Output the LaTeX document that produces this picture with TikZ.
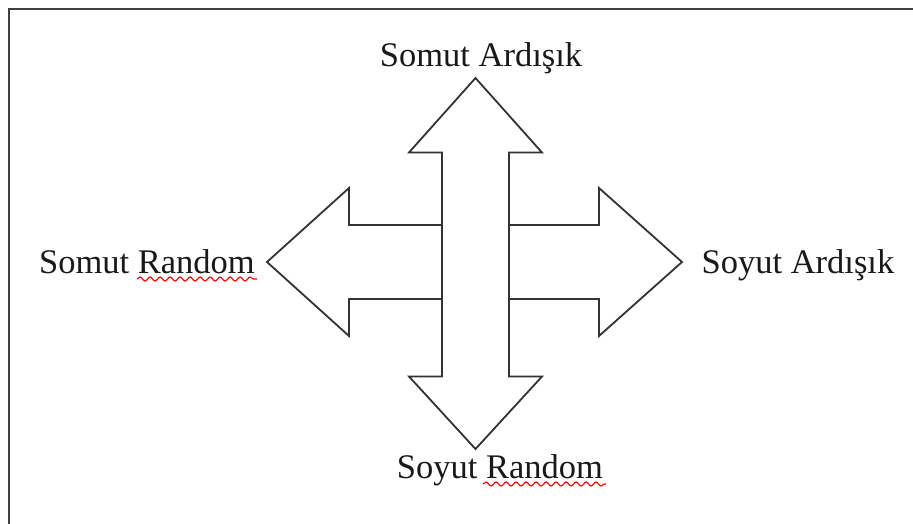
\documentclass[tikz,border=0pt]{standalone}
\usepackage{fontspec}
\setmainfont{Liberation Serif}
\usetikzlibrary{decorations.pathmorphing}
\tikzset{
  outline/.style={draw=black!80, line width=1.8pt, line join=miter, fill=white},
  lbl/.style={anchor=base, inner sep=0pt, font=\fontsize{34.5pt}{40pt}\selectfont, text=black!90},
  spell/.style={draw=red, line width=1.1pt, decorate, decoration={snake, segment length=10pt, amplitude=2pt}},
  frame/.style={draw=black!75, line width=2pt}
}
\begin{document}
\begin{tikzpicture}[x=1pt,y=-1pt]
\useasboundingbox (0,0) rectangle (913,524);
\fill[white] (0,0) rectangle (913,524);
\begin{scope}
\clip (0,0) rectangle (913,524);
\draw[frame] (9,9) rectangle (940,560);
\end{scope}
% horizontal double arrow (behind)
\draw[outline] (267,262) -- (349,188) -- (349,225) -- (599,225) -- (599,188) -- (682,262)
  -- (599,336) -- (599,299) -- (349,299) -- (349,336) -- cycle;
% vertical double arrow (front)
\draw[outline] (475.5,78) -- (542,152.5) -- (509,152.5) -- (509,376.5) -- (542,376.5)
  -- (475.5,449) -- (409,376.5) -- (442,376.5) -- (442,152.5) -- (409,152.5) -- cycle;
% labels
\node[lbl] (top) at (481,67) {Somut Ardışık};
\node[lbl] (left) at (147,273) {Somut Random};
\node[lbl] (right) at (798,273) {Soyut Ardışık};
\node[lbl] (bottom) at (500,478) {Soyut Random};
% spell-check underlines
\draw[spell] (137,279) -- (257,279);
\draw[spell] (483,484) -- (606,484);
\end{tikzpicture}
\end{document}
